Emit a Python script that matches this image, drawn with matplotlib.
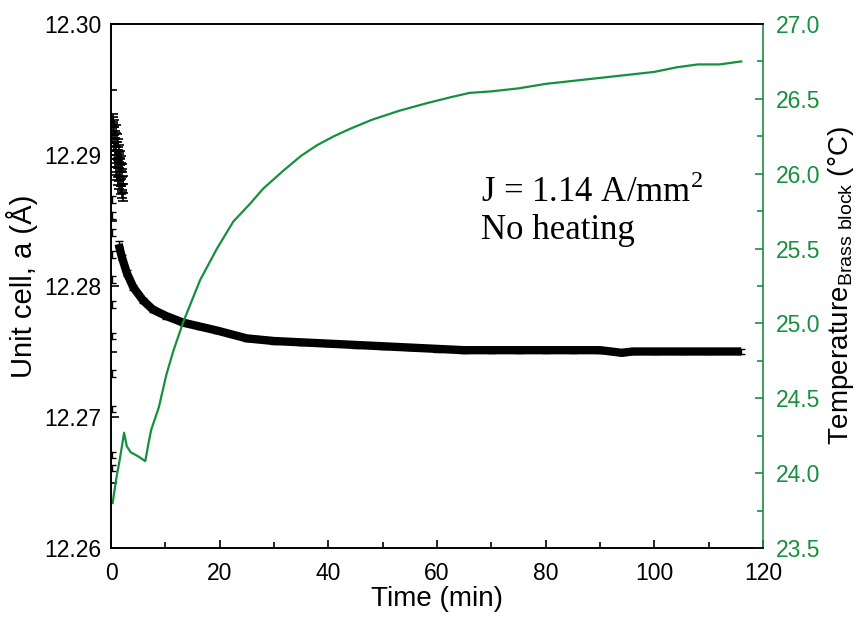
import matplotlib
matplotlib.use("Agg")
import matplotlib.pyplot as plt
from matplotlib.ticker import MultipleLocator

plt.rcParams['font.family'] = ['Liberation Sans', 'DejaVu Sans']

GREEN = '#15903f'

# Lattice parameter: scattered early points near t = 0
a_early_t = [0.2] * 11
a_early = [12.2866, 12.2854, 12.2841, 12.2824, 12.2805, 12.2786,
           12.2762, 12.2733, 12.2706, 12.2671, 12.2661]

# Lattice parameter: noisy cluster during the first two minutes
a_clust_t = [0.30, 0.35, 0.40, 0.45, 0.50, 0.55, 0.60, 0.65, 0.70, 0.75,
             0.80, 0.85, 0.90, 0.95, 1.00, 1.05, 1.10, 1.15, 1.20, 1.25,
             1.30, 1.35, 1.40, 1.45, 1.50, 1.55, 1.60, 1.65, 1.70, 1.75,
             1.80, 1.85, 1.90, 1.95, 2.00, 2.05, 2.10, 2.15, 2.20]
a_clust = [12.2928, 12.2921, 12.2926, 12.2912, 12.2924, 12.2906, 12.2918,
           12.2900, 12.2915, 12.2894, 12.2910, 12.2903, 12.2920, 12.2888,
           12.2907, 12.2897, 12.2913, 12.2884, 12.2901, 12.2893, 12.2909,
           12.2880, 12.2898, 12.2887, 12.2905, 12.2877, 12.2895, 12.2884,
           12.2900, 12.2873, 12.2891, 12.2879, 12.2896, 12.2870, 12.2886,
           12.2875, 12.2890, 12.2868, 12.2881]

# Lattice parameter: main relaxation curve
a_time = [1.4, 2.0, 2.9, 4.1, 5.9, 7.7, 10.2, 13.3, 16.4, 19.5, 25, 30, 35,
          40, 45, 50, 55, 60, 65, 70, 75, 80, 85, 90, 94, 96, 100, 105,
          110, 116]
a_val = [12.2832, 12.2822, 12.2810, 12.2799, 12.2789, 12.2782, 12.2777,
         12.2772, 12.2769, 12.2766, 12.2760, 12.2758, 12.2757, 12.2756,
         12.2755, 12.2754, 12.2753, 12.2752, 12.2751, 12.2751, 12.2751,
         12.2751, 12.2751, 12.2751, 12.2749, 12.2750, 12.2750, 12.2750,
         12.2750, 12.2750]

# Brass block temperature
temp_time = [0.3, 0.7, 1.0, 1.7, 2.4, 2.9, 3.6, 5.1, 6.3, 6.9, 7.4, 8.8,
             10.2, 11.5, 13.3, 16.4, 19.5, 22.5, 25.6, 28, 31.7, 35, 37.9,
             41, 44, 48, 53, 58, 62.4, 66, 70, 75, 80, 85, 90, 95, 100,
             104, 108, 112, 116]
temp_val = [23.80, 23.90, 23.97, 24.11, 24.27, 24.18, 24.14, 24.11, 24.08,
            24.20, 24.29, 24.44, 24.66, 24.82, 25.01, 25.29, 25.50, 25.68,
            25.80, 25.90, 26.02, 26.12, 26.19, 26.25, 26.30, 26.36, 26.42,
            26.47, 26.51, 26.54, 26.55, 26.57, 26.60, 26.62, 26.64, 26.66,
            26.68, 26.71, 26.73, 26.73, 26.75]

fig = plt.figure(figsize=(8.58, 6.25), dpi=100)
ax = fig.add_axes([0.1294, 0.1232, 0.7599, 0.8384])
ax2 = ax.twinx()

# unit cell data
ax.errorbar(a_early_t, a_early, yerr=0.00025, fmt='none', ecolor='k',
            elinewidth=1.0, capsize=3, capthick=1.0, zorder=3)
ax.errorbar(a_clust_t, a_clust, yerr=0.0003, fmt='none', ecolor='k',
            elinewidth=1.2, capsize=3.5, capthick=1.2, zorder=3)
ax.errorbar(a_time, a_val, yerr=0.0002, fmt='none', ecolor='k',
            elinewidth=1.0, capsize=3, capthick=1.0, zorder=3)
ax.plot(a_time, a_val, color='k', lw=6, solid_capstyle='butt', zorder=3)

# temperature
ax2.plot(temp_time, temp_val, color=GREEN, lw=1.6, zorder=2)

ax.set_xlim(0, 120)
ax.set_ylim(12.26, 12.30)
ax2.set_ylim(23.5, 27.0)

ax.xaxis.set_major_locator(MultipleLocator(20))
ax.xaxis.set_minor_locator(MultipleLocator(10))
ax.yaxis.set_major_locator(MultipleLocator(0.01))
ax.yaxis.set_minor_locator(MultipleLocator(0.005))
ax2.yaxis.set_major_locator(MultipleLocator(0.5))
ax2.yaxis.set_minor_locator(MultipleLocator(0.25))
ax.yaxis.set_major_formatter(plt.FormatStrFormatter('%.2f'))
ax2.yaxis.set_major_formatter(plt.FormatStrFormatter('%.1f'))

ax.tick_params(axis='both', which='both', direction='in', top=False,
               right=False, labelsize=16.5, width=1.2, color='k')
ax.tick_params(axis='both', which='major', length=6)
ax.tick_params(axis='both', which='minor', length=4)
ax.tick_params(axis='x', pad=10)
ax.tick_params(axis='y', pad=7)
ax2.tick_params(axis='y', which='both', direction='in', labelsize=16.5,
                width=1.2, color=GREEN, labelcolor=GREEN, pad=9)
ax2.tick_params(axis='y', which='major', length=6)
ax2.tick_params(axis='y', which='minor', length=4)

for a_ in (ax, ax2):
    for s in a_.spines.values():
        s.set_linewidth(1.2)
ax2.spines['right'].set_color(GREEN)
ax.spines['right'].set_visible(False)

ax.set_xlabel('Time (min)', fontsize=20, labelpad=1)
ax.set_ylabel('Unit cell, a (Å)', fontsize=21, labelpad=4)
ax2.set_ylabel(r'Temperature$_{\mathregular{Brass\ block}}$ (°C)',
               fontsize=20, labelpad=4)

ax.text(0.567, 0.574, 'J = 1.14 A/mm$^{\\mathregular{2}}$\nNo heating',
        transform=ax.transAxes, fontsize=25,
        family=['Liberation Serif', 'DejaVu Serif'],
        va='bottom', ha='left', linespacing=1.15)

fig.savefig('out.png', dpi=100)
